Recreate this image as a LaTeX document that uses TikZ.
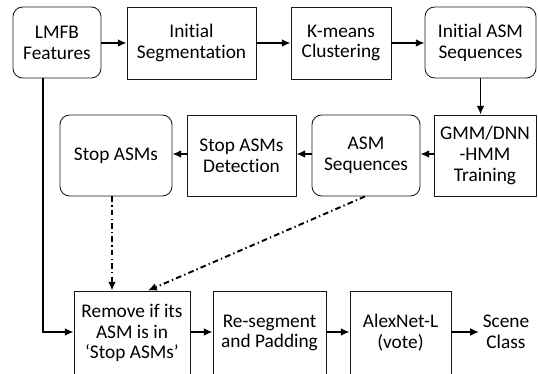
\documentclass[tikz,border=0pt]{standalone}
\usepackage{fontspec}
\setmainfont{Carlito}[Ligatures=NoCommon]
\usetikzlibrary{arrows.meta}
\begin{document}
\begin{tikzpicture}[x=0.02cm,y=-0.02cm,
  font=\fontsize{11}{11.9}\selectfont,
  box/.style={draw=black!90,line width=0.5pt,align=center,inner sep=0pt,minimum width=#1},
  rbox/.style={box=#1,rounded corners=5.5pt},
  arr/.style={line width=1.1pt,-{Latex[length=5pt,width=4.5pt]}},
  dd/.style={line width=1.1pt,dash pattern=on 3.2pt off 1.8pt on 0.8pt off 1.8pt,-{Latex[length=5pt,width=4.5pt]}}]
\useasboundingbox (0,0) rectangle (538,374);
\clip (0,0) rectangle (538,374);
% row 1
\node[rbox=88*0.02cm,minimum height=71*0.02cm] (lmfb) at (57,42.5) {LMFB\\Features};
\node[box=129*0.02cm,minimum height=72*0.02cm] (iseg) at (191.5,43) {Initial\\Segmentation};
\node[box=100*0.02cm,minimum height=72*0.02cm] (km) at (341,43) {K-means\\Clustering};
\node[rbox=111*0.02cm,minimum height=71*0.02cm] (iasm) at (480.5,42.5) {Initial ASM\\Sequences};
% row 2
\node[rbox=112*0.02cm,minimum height=81*0.02cm] (stop) at (116,155.5) {Stop ASMs};
\node[box=109*0.02cm,minimum height=81*0.02cm] (det) at (241.5,155.5) {Stop ASMs\\Detection};
\node[rbox=108*0.02cm,minimum height=81*0.02cm] (asq) at (366,155.5) {ASM\\Sequences};
\node[box=102*0.02cm,minimum height=81*0.02cm] (gmm) at (485,155.5) {GMM/DNN\\-HMM\\Training};
% row 3
\node[box=116*0.02cm,minimum height=84*0.02cm] (rem) at (132,333) {Remove if its\\ASM is in\\‘Stop ASMs’};
\node[box=113*0.02cm,minimum height=84*0.02cm] (rseg) at (269.5,333) {Re-segment\\and Padding};
\node[box=101*0.02cm,minimum height=84*0.02cm] (alex) at (400.5,333) {AlexNet-L\\(vote)};
\node[align=center,inner sep=0pt] (scene) at (506,332) {Scene\\Class};
% arrows
\draw[arr] (lmfb.east |- 0,43) -- (iseg.west |- 0,43);
\draw[arr] (iseg.east |- 0,43) -- (km.west |- 0,43);
\draw[arr] (km.east |- 0,43) -- (iasm.west |- 0,43);
\draw[arr] (iasm.south) -- (gmm.north -| iasm.south);
\draw[arr] (gmm.west |- 0,154) -- (asq.east |- 0,154);
\draw[arr] (det.west |- 0,154) -- (stop.east |- 0,154);
\draw[arr] (asq.west |- 0,154) -- (det.east |- 0,154);
\draw[arr] (lmfb.south -| 43,0) -- (43,332) -- (rem.west |- 0,332);
\draw[arr] (rem.east |- 0,332) -- (rseg.west |- 0,332);
\draw[arr] (rseg.east |- 0,332) -- (alex.west |- 0,332);
\coordinate (sc) at (479,332);
\draw[arr] (alex.east |- 0,332) -- (sc);
\draw[dd] (stop.south -| 112,0) -- (rem.north -| 112,0);
\draw[dd] (asq.south -| 365,0) -- (rem.north -| 148,0);
\end{tikzpicture}
\end{document}
